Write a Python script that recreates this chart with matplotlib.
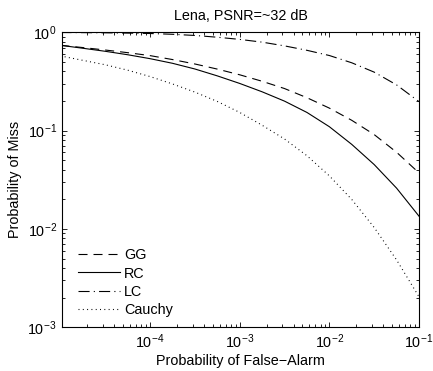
import numpy as np
import matplotlib
matplotlib.use('Agg')
import matplotlib.pyplot as plt
from matplotlib.ticker import LogLocator, NullFormatter

plt.rcParams['font.family'] = ['Liberation Sans', 'DejaVu Sans']
plt.rcParams['mathtext.fontset'] = 'custom'
plt.rcParams['mathtext.rm'] = 'Liberation Sans'
plt.rcParams['mathtext.default'] = 'regular'
plt.rcParams['lines.scale_dashes'] = False

# probability of false alarm
pfa = [1.0e-5, 1.778e-5, 3.162e-5, 5.623e-5,
       1.0e-4, 1.778e-4, 3.162e-4, 5.623e-4,
       1.0e-3, 1.778e-3, 3.162e-3, 5.623e-3,
       1.0e-2, 1.778e-2, 3.162e-2, 5.623e-2,
       1.0e-1]

# log10 of probability of miss
log_pm_gg = [-0.132, -0.155, -0.180, -0.207, -0.237, -0.277, -0.322, -0.374,
             -0.432, -0.498, -0.572, -0.665, -0.771, -0.895, -1.040, -1.220,
             -1.430]
log_pm_rc = [-0.132, -0.162, -0.193, -0.228, -0.268, -0.315, -0.373, -0.443,
             -0.520, -0.605, -0.700, -0.815, -0.960, -1.140, -1.345, -1.585,
             -1.870]
log_pm_lc = [-0.002, -0.003, -0.005, -0.008, -0.012, -0.020, -0.032, -0.050,
             -0.072, -0.100, -0.138, -0.183, -0.236, -0.310, -0.405, -0.535,
             -0.705]
log_pm_cauchy = [-0.240, -0.285, -0.330, -0.385, -0.450, -0.525, -0.608, -0.703,
                 -0.815, -0.945, -1.085, -1.255, -1.460, -1.700, -1.985, -2.315,
                 -2.690]

labels = ['GG', 'RC', 'LC', 'Cauchy']
styles = [(0, (6.5, 4.3)), '-', (0, (8, 3, 0.8, 3)), (0, (0.7, 2.4))]

fig = plt.figure(figsize=(4.33, 3.71), dpi=100)
ax = fig.add_axes([0.1439, 0.1178, 0.8238, 0.7951])

for logs, lab, ls in zip([log_pm_gg, log_pm_rc, log_pm_lc, log_pm_cauchy], labels, styles):
    ax.plot(pfa, 10 ** np.array(logs), color='black', linestyle=ls,
            linewidth=0.8, label=lab)

ax.set_xscale('log')
ax.set_yscale('log')
ax.set_xlim(1.05e-5, 1e-1)
ax.set_ylim(1e-3, 1e0)
ax.set_xticks([1e-4, 1e-3, 1e-2, 1e-1])
ax.set_yticks([1e-3, 1e-2, 1e-1, 1e0])
ax.xaxis.set_minor_locator(LogLocator(base=10, subs=np.arange(2, 10)))
ax.yaxis.set_minor_locator(LogLocator(base=10, subs=np.arange(2, 10)))
ax.xaxis.set_minor_formatter(NullFormatter())
ax.yaxis.set_minor_formatter(NullFormatter())
ax.tick_params(which='both', direction='in', top=True, right=True, labelsize=10.4, width=0.6)
ax.tick_params(which='major', length=3.5, pad=4)
ax.tick_params(which='minor', length=2)
for sp in ax.spines.values():
    sp.set_linewidth(0.8)

ax.set_title('Lena, PSNR=~32 dB', fontsize=10.4, pad=9)
ax.set_xlabel('Probability of False\u2212Alarm', fontsize=10.4, labelpad=2)
ax.set_ylabel('Probability of Miss', fontsize=10.4, labelpad=4)

ax.legend(loc='lower left', frameon=False, fontsize=10.4, handlelength=2.9,
          handletextpad=0.3, labelspacing=0.3, borderaxespad=0.3,
          bbox_to_anchor=(0.016, 0.0))

fig.savefig('out.png', dpi=100)
